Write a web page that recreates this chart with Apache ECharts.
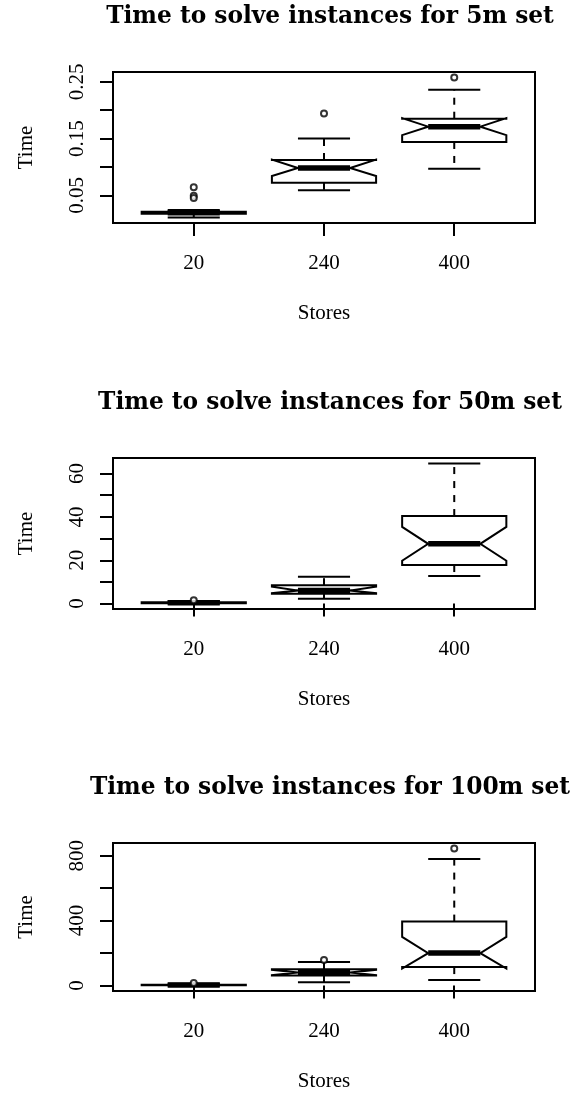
<!DOCTYPE html>
<html>
<head>
<meta charset="utf-8">
<script src="https://cdn.jsdelivr.net/npm/echarts@6/dist/echarts.min.js"></script>
<style>
html,body{margin:0;padding:0;background:#fff;}
#chart{width:573px;height:1093px;}
</style>
</head>
<body>
<div id="chart"></div>
<script>
// ---------- data ----------
const stores = ['20', '240', '400'];
const titles = [
  'Time to solve instances for 5m set',
  'Time to solve instances for 50m set',
  'Time to solve instances for 100m set'
];

// 5m set
const m5Low    = [0.011, 0.059, 0.097];
const m5Q1     = [0.0175, 0.072, 0.144];
const m5NotchL = [0.0180, 0.084, 0.156];
const m5Median = [0.019, 0.098, 0.171];
const m5NotchU = [0.0200, 0.113, 0.186];
const m5Q3     = [0.0210, 0.112, 0.185];
const m5High   = [0.024, 0.150, 0.236];
const m5Out    = [[0.064, 0.049, 0.045], [0.194], [0.2575]];
const m5Ticks  = [0.05, 0.10, 0.15, 0.20, 0.25];
const m5Labels = [0.05, 0.15, 0.25];

// 50m set
const m50Low    = [0.1, 2.2, 12.7];
const m50Q1     = [0.2, 4.5, 17.8];
const m50NotchL = [0.25, 4.8, 19.8];
const m50Median = [0.35, 6.0, 27.6];
const m50NotchU = [0.5, 7.8, 35.4];
const m50Q3     = [0.6, 8.5, 40.4];
const m50High   = [1.2, 12.4, 64.6];
const m50Out    = [[1.5], [], []];
const m50Ticks  = [0, 10, 20, 30, 40, 50, 60];
const m50Labels = [0, 20, 40, 60];

// 100m set
const m100Low    = [0.5, 20, 34];
const m100Q1     = [1.5, 62, 114];
const m100NotchL = [2, 65, 105];
const m100Median = [3, 80, 200];
const m100NotchU = [4, 97, 300];
const m100Q3     = [6, 100, 394];
const m100High   = [12, 146, 780];
const m100Out    = [[16], [158], [844]];
const m100Ticks  = [0, 200, 400, 600, 800];
const m100Labels = [0, 400, 800];

// ---------- build ----------
const panels = [
  {low: m5Low, q1: m5Q1, nl: m5NotchL, med: m5Median, nu: m5NotchU, q3: m5Q3, high: m5High, out: m5Out, ticks: m5Ticks, labels: m5Labels, fmt: v => v.toFixed(2)},
  {low: m50Low, q1: m50Q1, nl: m50NotchL, med: m50Median, nu: m50NotchU, q3: m50Q3, high: m50High, out: m50Out, ticks: m50Ticks, labels: m50Labels, fmt: v => String(Math.round(v))},
  {low: m100Low, q1: m100Q1, nl: m100NotchL, med: m100Median, nu: m100NotchU, q3: m100Q3, high: m100High, out: m100Out, ticks: m100Ticks, labels: m100Labels, fmt: v => String(Math.round(v))}
];

const tops = [72, 458, 843];
const FONT = 'Liberation Serif';
const grids = [], xAxes = [], yAxes = [], series = [], titleArr = [];

const BOXW = 0.4, NOTCHW = 0.2;

function renderBox(params, api) {
  const x = api.value(0);
  const low = api.value(1), q1 = api.value(2), nl = api.value(3), med = api.value(4),
        nu = api.value(5), q3 = api.value(6), high = api.value(7);
  const P = (dx, v) => api.coord([x + dx, v]);
  const lineStyle = {stroke: '#000', lineWidth: 2, fill: null};
  const dashStyle = {stroke: '#000', lineWidth: 2, lineDash: [7, 7], fill: null};
  const seg = (a, b, st) => ({type: 'line', shape: {x1: a[0], y1: a[1], x2: b[0], y2: b[1]}, style: st});
  return {
    type: 'group',
    children: [
      seg(P(0, q3), P(0, high), dashStyle),
      seg(P(0, q1), P(0, low), dashStyle),
      seg(P(-NOTCHW, high), P(NOTCHW, high), lineStyle),
      seg(P(-NOTCHW, low), P(NOTCHW, low), lineStyle),
      {
        type: 'polygon',
        shape: {points: [
          P(-BOXW, q1), P(-BOXW, nl), P(-NOTCHW, med), P(-BOXW, nu), P(-BOXW, q3),
          P(BOXW, q3), P(BOXW, nu), P(NOTCHW, med), P(BOXW, nl), P(BOXW, q1)
        ]},
        style: {fill: '#fff', stroke: '#000', lineWidth: 2}
      },
      seg(P(-NOTCHW, med), P(NOTCHW, med), {stroke: '#000', lineWidth: 5.5})
    ]
  };
}

panels.forEach((p, i) => {
  let lo = Infinity, hi = -Infinity;
  for (let g = 0; g < 3; g++) {
    lo = Math.min(lo, p.low[g], ...p.out[g]);
    hi = Math.max(hi, p.high[g], ...p.out[g]);
  }
  const pad = (hi - lo) * 0.04;

  titleArr.push({
    text: titles[i],
    left: 325, top: tops[i] - 72, textAlign: 'center',
    textStyle: {fontFamily: 'DejaVu Serif', fontWeight: 'bold', fontSize: 23.3, color: '#000'}
  });

  grids.push({left: 113, right: 38, top: tops[i], height: 151, show: true,
              borderColor: '#000', borderWidth: 2, backgroundColor: 'transparent'});

  xAxes.push({
    type: 'value', gridIndex: i, min: 0.38, max: 3.62,
    name: 'Stores', nameLocation: 'middle', nameGap: 80,
    nameTextStyle: {fontFamily: FONT, fontSize: 21, color: '#000'},
    axisLine: {show: false},
    splitLine: {show: false},
    axisTick: {show: true, customValues: [1, 2, 3], length: 13, lineStyle: {color: '#000', width: 2}},
    axisLabel: {customValues: [1, 2, 3], margin: 30, fontFamily: FONT, fontSize: 21, color: '#000',
                formatter: v => stores[Math.round(v) - 1]}
  });

  yAxes.push({
    type: 'value', gridIndex: i, min: lo - pad, max: hi + pad,
    name: 'Time', nameLocation: 'middle', nameGap: 76, nameRotate: 90,
    nameTextStyle: {fontFamily: FONT, fontSize: 21, color: '#000'},
    axisLine: {show: false},
    splitLine: {show: false},
    axisTick: {show: true, customValues: p.ticks, length: 13, lineStyle: {color: '#000', width: 2}},
    axisLabel: {customValues: p.labels, rotate: 90, margin: 25, fontFamily: FONT, fontSize: 21, color: '#000',
                formatter: p.fmt}
  });

  const boxData = [];
  for (let g = 0; g < 3; g++) {
    boxData.push([g + 1, p.low[g], p.q1[g], p.nl[g], p.med[g], p.nu[g], p.q3[g], p.high[g]]);
  }
  series.push({
    type: 'custom', xAxisIndex: i, yAxisIndex: i,
    renderItem: renderBox, data: boxData, silent: true,
    encode: {x: 0, y: [1, 2, 3, 4, 5, 6, 7]}
  });

  const outData = [];
  p.out.forEach((arr, g) => arr.forEach(v => outData.push([g + 1, v])));
  series.push({
    type: 'scatter', xAxisIndex: i, yAxisIndex: i, data: outData, silent: true,
    symbol: 'circle', symbolSize: 6,
    itemStyle: {color: '#fff', borderColor: '#000', borderWidth: 2}
  });
});

const chart = echarts.init(document.getElementById('chart'), null, {renderer: 'canvas'});
chart.setOption({
  animation: false,
  backgroundColor: '#fff',
  title: titleArr,
  grid: grids,
  xAxis: xAxes,
  yAxis: yAxes,
  series: series
});
</script>
</body>
</html>
